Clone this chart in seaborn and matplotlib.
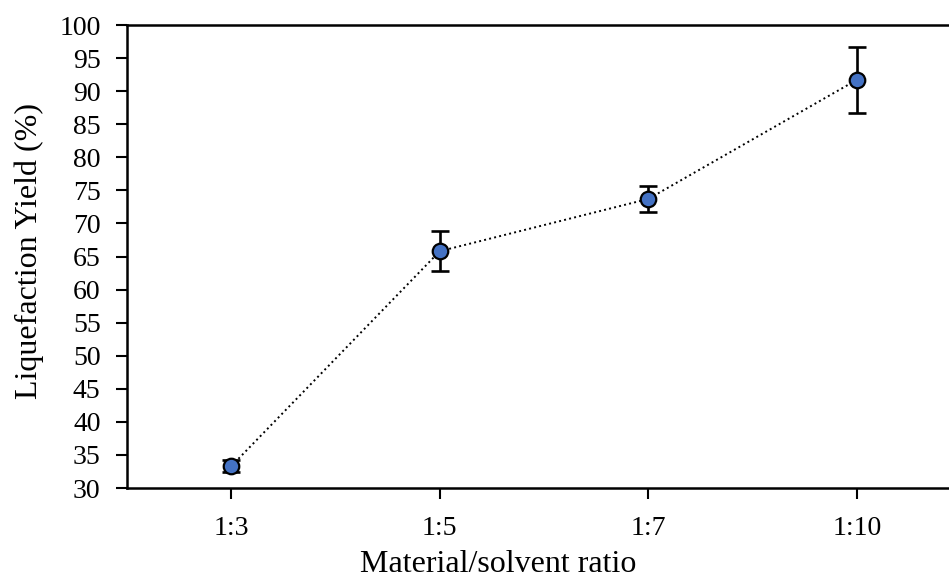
"""Liquefaction yield against material/solvent ratio."""
import matplotlib
matplotlib.use("Agg")
from matplotlib import pyplot as plt
import pandas as pd
import seaborn as sns

# Data
ratios = ["1:3", "1:5", "1:7", "1:10"]
yield_pct = [33.3, 65.8, 73.7, 91.7]
yield_err = [0.9, 3.0, 2.0, 5.0]

df = pd.DataFrame({"ratio": ratios, "yield": yield_pct, "err": yield_err})

sns.set_theme(style="white", rc={
    "text.color": "black",
    "axes.labelcolor": "black",
    "xtick.color": "black",
    "ytick.color": "black",
})
plt.rcParams["font.family"] = ["Liberation Serif", "DejaVu Serif"]

fig = plt.figure(figsize=(9.49, 5.79), dpi=100)
ax = fig.add_axes([127 / 949, 91 / 579, 834 / 949, 463 / 579])

sns.lineplot(
    data=df, x="ratio", y="yield", ax=ax, color="black",
    linestyle=":", linewidth=1.4, sort=False, zorder=1,
)
ax.errorbar(
    df["ratio"], df["yield"], yerr=df["err"], fmt="none",
    ecolor="black", elinewidth=1.9, capsize=6.5, capthick=1.9, zorder=2,
)
sns.scatterplot(
    data=df, x="ratio", y="yield", ax=ax, s=125, color="#4472C4",
    edgecolor="black", linewidth=1.6, zorder=3,
)

ax.set_xlim(-0.5, 3.5)
ax.set_ylim(30, 100)
ax.set_yticks(range(30, 101, 5))
ax.set_xlabel("Material/solvent ratio", fontsize=23)
ax.set_ylabel("Liquefaction Yield (%)", fontsize=23, va="center")
ax.xaxis.set_label_coords(0.445, -0.133)
ax.yaxis.set_label_coords(-0.1175, 0.512)
ax.tick_params(axis="both", labelsize=20, direction="out", length=8,
               width=1.5, bottom=True, left=True)
ax.tick_params(axis="x", pad=12)
ax.tick_params(axis="y", pad=11)
for side in ["left", "bottom", "top"]:
    ax.spines[side].set_color("black")
    ax.spines[side].set_linewidth(1.8)
ax.spines["right"].set_visible(False)

fig.savefig("out.png", dpi=100)
